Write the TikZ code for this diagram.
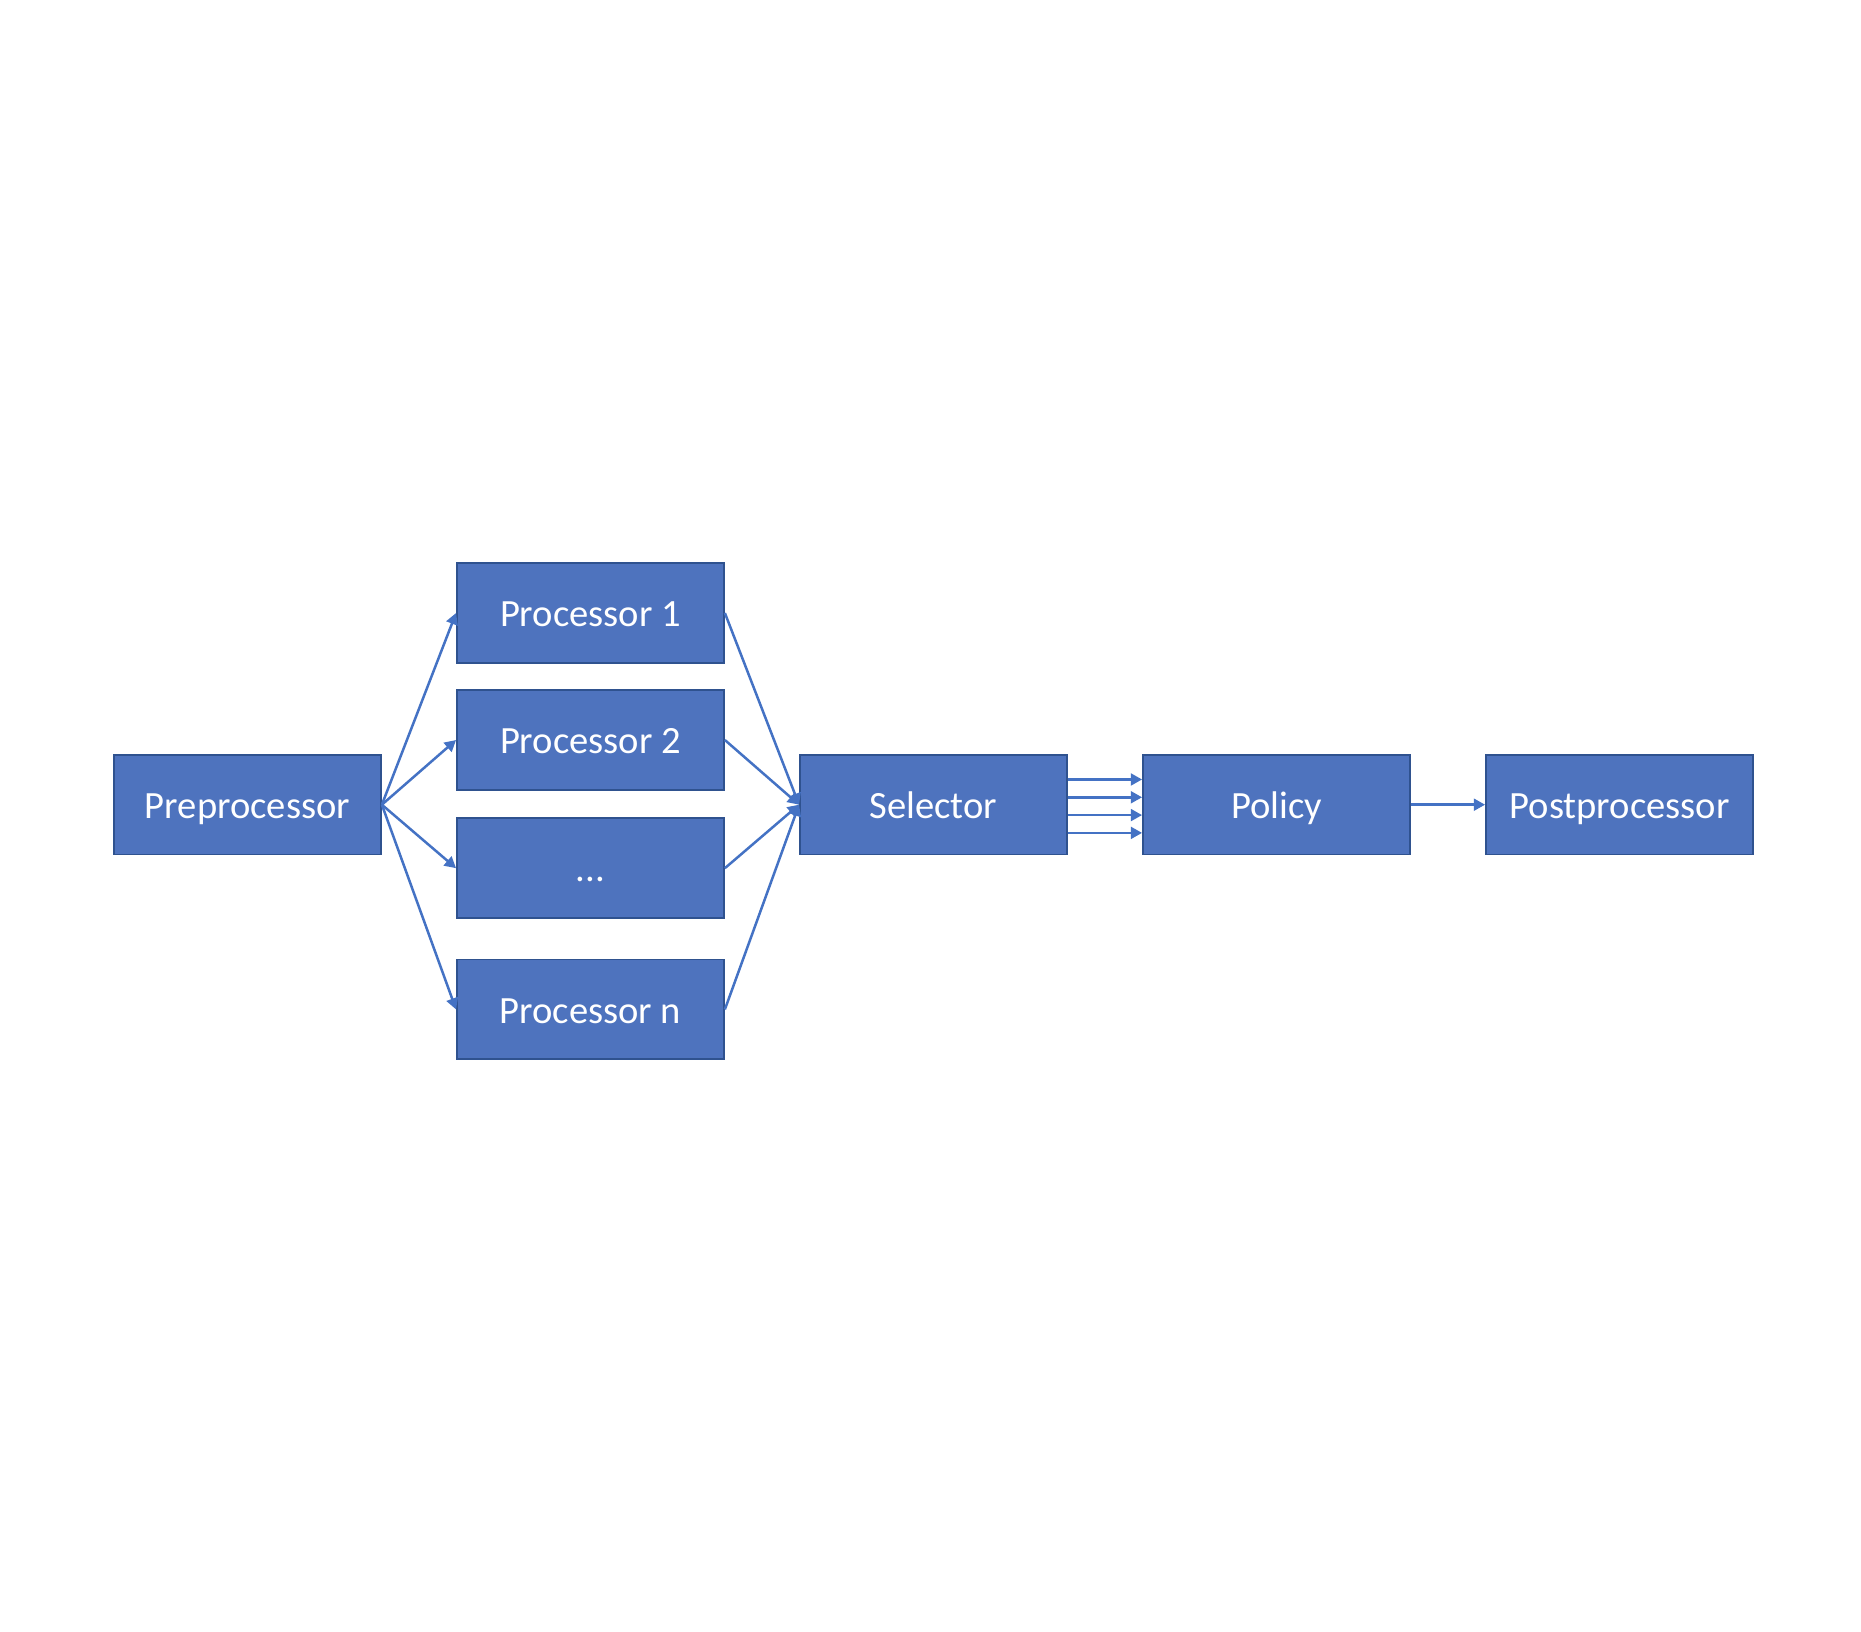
\documentclass[tikz,border=0pt]{standalone}
\usepackage{fontspec}
\setmainfont{Carlito}
\usetikzlibrary{arrows.meta}
\definecolor{boxfill}{HTML}{4E73BE}
\definecolor{boxline}{HTML}{2F528F}
\definecolor{arrowc}{HTML}{4472C4}
\begin{document}
\begin{tikzpicture}[x=1pt,y=-1pt,
  box/.style={draw=boxline,line width=1.5pt,fill=boxfill,text=white,
    minimum width=225pt,minimum height=84pt,inner sep=0pt,
    text height=29pt,text depth=6pt,
    font=\fontsize{32.5}{39}\selectfont},
  conn/.style={draw=arrowc,line width=2.1pt,-{Triangle[length=9.5pt,width=10pt]}}]
\useasboundingbox[fill=white] (0,0) rectangle (1568,1375);
\node[box] (pre) at (208.5,678) {Preprocessor};
\node[box] (p1) at (497.5,516.5) {Processor 1};
\node[box] (p2) at (497.5,623.5) {Processor 2};
\node[box] (pd) at (497.5,731.5) {...};
\node[box] (pn) at (497.5,850.5) {Processor n};
\node[box] (sel) at (786.5,678) {Selector};
\node[box] (pol) at (1075.5,678) {Policy};
\node[box] (post) at (1364.5,678) {Postprocessor};
\foreach \p in {p1,p2,pd,pn}{
  \draw[conn] (pre.east) -- (\p.west);
  \draw[conn] (\p.east) -- (sel.west);
}
\foreach \d in {21.5,36.5,51.5,66.5}{
  \draw[conn] ([yshift=-\d pt]sel.north east) -- ([yshift=-\d pt]pol.north west);
}
\draw[conn] (pol.east) -- (post.west);
\end{tikzpicture}
\end{document}
